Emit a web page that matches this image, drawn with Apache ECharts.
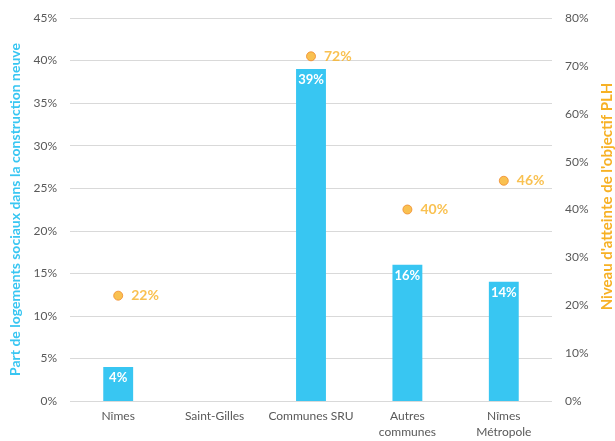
<!DOCTYPE html>
<html>
<head>
<meta charset="utf-8">
<script src="https://cdn.jsdelivr.net/npm/echarts@6/dist/echarts.min.js"></script>
<style>
  html, body { margin: 0; padding: 0; background: #fff; }
  #chart { width: 615px; height: 441px; }
</style>
</head>
<body>
<div id="chart"></div>
<script>
// Territories compared
const categories = ['Nîmes', 'Saint-Gilles', 'Communes SRU', 'Autres\ncommunes', 'Nîmes\nMétropole'];
// Share of social housing in new construction (%), left axis
const socialShare = [4, null, 39, 16, 14];
// Achievement of the PLH objective (%), right axis
const plhAchievement = [22, null, 72, 40, 46];

const FONT = 'Lato, "Open Sans", sans-serif';
const BLUE = '#38C6F2';
const ORANGE = '#F7B125';
const GREY = '#595959';

const chart = echarts.init(document.getElementById('chart'), null, { renderer: 'canvas' });

chart.setOption({
  animation: false,
  textStyle: { fontFamily: FONT },
  grid: { left: 70, right: 63, top: 18, bottom: 40, outerBoundsMode: 'none', containLabel: false },
  xAxis: {
    type: 'category',
    data: categories,
    axisLine: { show: false },
    axisTick: { show: false },
    axisLabel: { color: GREY, fontSize: 12, margin: 7, lineHeight: 16, fontFamily: FONT, interval: 0 }
  },
  yAxis: [
    {
      type: 'value',
      min: 0, max: 45, interval: 5,
      name: 'Part de logements sociaux dans la construction neuve',
      nameLocation: 'middle',
      nameRotate: 90,
      nameGap: 42,
      nameTextStyle: { color: BLUE, fontSize: 14, fontWeight: 'bold', fontFamily: FONT },
      axisLine: { show: false },
      axisTick: { show: false },
      axisLabel: { color: GREY, fontSize: 12, margin: 13, formatter: '{value}%', fontFamily: FONT },
      splitLine: { lineStyle: { color: '#D9D9D9', width: 1 } }
    },
    {
      type: 'value',
      min: 0, max: 80, interval: 10,
      name: "Niveau d'atteinte de l'objectif PLH",
      nameLocation: 'middle',
      nameRotate: 90,
      nameGap: 45,
      nameTextStyle: { color: ORANGE, fontSize: 15, fontWeight: 'bold', fontFamily: FONT, padding: [0, 0, 0, 26] },
      axisLine: { show: false },
      axisTick: { show: false },
      axisLabel: { color: GREY, fontSize: 12, margin: 13, formatter: '{value}%', fontFamily: FONT },
      splitLine: { show: false }
    }
  ],
  series: [
    {
      type: 'bar',
      yAxisIndex: 0,
      data: socialShare,
      barWidth: '31%',
      itemStyle: { color: BLUE },
      label: {
        show: true,
        position: 'insideTop',
        distance: 4,
        color: '#fff',
        fontWeight: 'bold',
        fontSize: 13,
        fontFamily: FONT,
        formatter: p => p.value == null ? '' : p.value + '%'
      }
    },
    {
      type: 'scatter',
      yAxisIndex: 1,
      data: plhAchievement,
      symbol: 'circle',
      symbolSize: 9,
      itemStyle: { color: ORANGE, borderColor: '#F08A2A', borderWidth: 1 },
      label: {
        show: true,
        position: 'right',
        distance: 8,
        color: ORANGE,
        fontWeight: 'bold',
        fontSize: 14,
        fontFamily: FONT,
        formatter: p => p.value == null ? '' : p.value + '%'
      }
    }
  ]
});
</script>
</body>
</html>
